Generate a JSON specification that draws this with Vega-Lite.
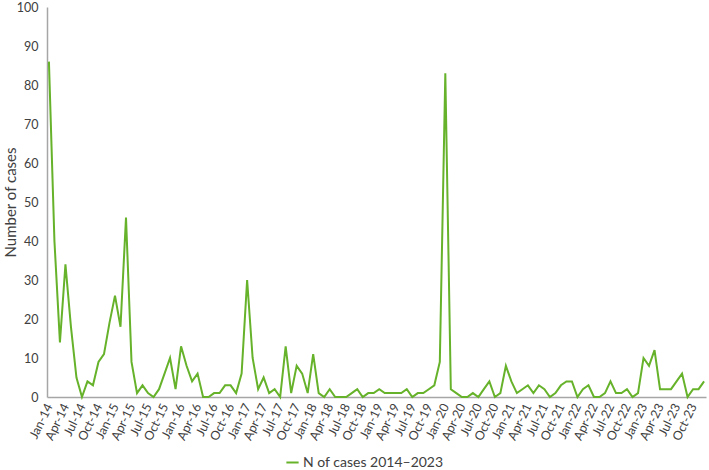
{
  "$schema": "https://vega.github.io/schema/vega-lite/v6.json",
  "width": 659,
  "height": 390,
  "autosize": {"type": "none"},
  "padding": {"left": 47, "top": 7, "right": 3, "bottom": 73},
  "background": "white",
  "config": {
    "view": {"stroke": null},
    "font": "Lato",
    "axis": {"labelFont": "Lato", "titleFont": "Lato", "labelColor": "#404040", "titleColor": "#404040", "domainColor": "#a6a6a6", "grid": false, "ticks": false}
  },
  "data": {
    "values": [
      {"month": "Jan-14", "cases": 86}, {"month": "Feb-14", "cases": 40}, {"month": "Mar-14", "cases": 14}, {"month": "Apr-14", "cases": 34},
      {"month": "May-14", "cases": 18}, {"month": "Jun-14", "cases": 5}, {"month": "Jul-14", "cases": 0}, {"month": "Aug-14", "cases": 4},
      {"month": "Sep-14", "cases": 3}, {"month": "Oct-14", "cases": 9}, {"month": "Nov-14", "cases": 11}, {"month": "Dec-14", "cases": 19},
      {"month": "Jan-15", "cases": 26}, {"month": "Feb-15", "cases": 18}, {"month": "Mar-15", "cases": 46}, {"month": "Apr-15", "cases": 9},
      {"month": "May-15", "cases": 1}, {"month": "Jun-15", "cases": 3}, {"month": "Jul-15", "cases": 1}, {"month": "Aug-15", "cases": 0},
      {"month": "Sep-15", "cases": 2}, {"month": "Oct-15", "cases": 6}, {"month": "Nov-15", "cases": 10}, {"month": "Dec-15", "cases": 2},
      {"month": "Jan-16", "cases": 13}, {"month": "Feb-16", "cases": 8}, {"month": "Mar-16", "cases": 4}, {"month": "Apr-16", "cases": 6},
      {"month": "May-16", "cases": 0}, {"month": "Jun-16", "cases": 0}, {"month": "Jul-16", "cases": 1}, {"month": "Aug-16", "cases": 1},
      {"month": "Sep-16", "cases": 3}, {"month": "Oct-16", "cases": 3}, {"month": "Nov-16", "cases": 1}, {"month": "Dec-16", "cases": 6},
      {"month": "Jan-17", "cases": 30}, {"month": "Feb-17", "cases": 10}, {"month": "Mar-17", "cases": 2}, {"month": "Apr-17", "cases": 5},
      {"month": "May-17", "cases": 1}, {"month": "Jun-17", "cases": 2}, {"month": "Jul-17", "cases": 0}, {"month": "Aug-17", "cases": 13},
      {"month": "Sep-17", "cases": 1}, {"month": "Oct-17", "cases": 8}, {"month": "Nov-17", "cases": 6}, {"month": "Dec-17", "cases": 1},
      {"month": "Jan-18", "cases": 11}, {"month": "Feb-18", "cases": 1}, {"month": "Mar-18", "cases": 0}, {"month": "Apr-18", "cases": 2},
      {"month": "May-18", "cases": 0}, {"month": "Jun-18", "cases": 0}, {"month": "Jul-18", "cases": 0}, {"month": "Aug-18", "cases": 1},
      {"month": "Sep-18", "cases": 2}, {"month": "Oct-18", "cases": 0}, {"month": "Nov-18", "cases": 1}, {"month": "Dec-18", "cases": 1},
      {"month": "Jan-19", "cases": 2}, {"month": "Feb-19", "cases": 1}, {"month": "Mar-19", "cases": 1}, {"month": "Apr-19", "cases": 1},
      {"month": "May-19", "cases": 1}, {"month": "Jun-19", "cases": 2}, {"month": "Jul-19", "cases": 0}, {"month": "Aug-19", "cases": 1},
      {"month": "Sep-19", "cases": 1}, {"month": "Oct-19", "cases": 2}, {"month": "Nov-19", "cases": 3}, {"month": "Dec-19", "cases": 9},
      {"month": "Jan-20", "cases": 83}, {"month": "Feb-20", "cases": 2}, {"month": "Mar-20", "cases": 1}, {"month": "Apr-20", "cases": 0},
      {"month": "May-20", "cases": 0}, {"month": "Jun-20", "cases": 1}, {"month": "Jul-20", "cases": 0}, {"month": "Aug-20", "cases": 2},
      {"month": "Sep-20", "cases": 4}, {"month": "Oct-20", "cases": 0}, {"month": "Nov-20", "cases": 1}, {"month": "Dec-20", "cases": 8},
      {"month": "Jan-21", "cases": 4}, {"month": "Feb-21", "cases": 1}, {"month": "Mar-21", "cases": 2}, {"month": "Apr-21", "cases": 3},
      {"month": "May-21", "cases": 1}, {"month": "Jun-21", "cases": 3}, {"month": "Jul-21", "cases": 2}, {"month": "Aug-21", "cases": 0},
      {"month": "Sep-21", "cases": 1}, {"month": "Oct-21", "cases": 3}, {"month": "Nov-21", "cases": 4}, {"month": "Dec-21", "cases": 4},
      {"month": "Jan-22", "cases": 0}, {"month": "Feb-22", "cases": 2}, {"month": "Mar-22", "cases": 3}, {"month": "Apr-22", "cases": 0},
      {"month": "May-22", "cases": 0}, {"month": "Jun-22", "cases": 1}, {"month": "Jul-22", "cases": 4}, {"month": "Aug-22", "cases": 1},
      {"month": "Sep-22", "cases": 1}, {"month": "Oct-22", "cases": 2}, {"month": "Nov-22", "cases": 0}, {"month": "Dec-22", "cases": 1},
      {"month": "Jan-23", "cases": 10}, {"month": "Feb-23", "cases": 8}, {"month": "Mar-23", "cases": 12}, {"month": "Apr-23", "cases": 2},
      {"month": "May-23", "cases": 2}, {"month": "Jun-23", "cases": 2}, {"month": "Jul-23", "cases": 4}, {"month": "Aug-23", "cases": 6},
      {"month": "Sep-23", "cases": 0}, {"month": "Oct-23", "cases": 2}, {"month": "Nov-23", "cases": 2}, {"month": "Dec-23", "cases": 4}
    ]
  },
  "transform": [{"calculate": "'N of cases 2014\u20132023'", "as": "series"}],
  "mark": {"type": "line", "strokeWidth": 2, "interpolate": "linear"},
  "encoding": {
    "x": {
      "field": "month",
      "type": "ordinal",
      "sort": null,
      "scale": {"type": "point", "padding": 0.35},
      "axis": {
        "title": null,
        "values": ["Jan-14","Apr-14","Jul-14","Oct-14","Jan-15","Apr-15","Jul-15","Oct-15","Jan-16","Apr-16","Jul-16","Oct-16","Jan-17","Apr-17","Jul-17","Oct-17","Jan-18","Apr-18","Jul-18","Oct-18","Jan-19","Apr-19","Jul-19","Oct-19","Jan-20","Apr-20","Jul-20","Oct-20","Jan-21","Apr-21","Jul-21","Oct-21","Jan-22","Apr-22","Jul-22","Oct-22","Jan-23","Apr-23","Jul-23","Oct-23"],
        "labelAngle": -64,
        "labelAlign": "right",
        "labelBaseline": "middle",
        "labelFontSize": 12.5,
        "labelPadding": 7,
        "domainWidth": 1.5
      }
    },
    "y": {
      "field": "cases",
      "type": "quantitative",
      "scale": {"domain": [0, 100], "nice": false},
      "axis": {
        "title": "Number of cases",
        "titleFontSize": 15,
        "titleFontWeight": "normal",
        "titlePadding": -2,
        "values": [0,10,20,30,40,50,60,70,80,90,100],
        "labelFontSize": 12.5,
        "labelPadding": 9,
        "domainWidth": 1.5
      }
    },
    "color": {
      "field": "series",
      "type": "nominal",
      "scale": {"range": ["#66b22a"]},
      "legend": {
        "title": null,
        "orient": "none",
        "legendX": 238,
        "legendY": 448,
        "symbolType": "stroke",
        "symbolSize": 150,
        "symbolStrokeWidth": 2,
        "labelFontSize": 14,
        "labelColor": "#404040",
        "labelOffset": 3
      }
    }
  }
}
